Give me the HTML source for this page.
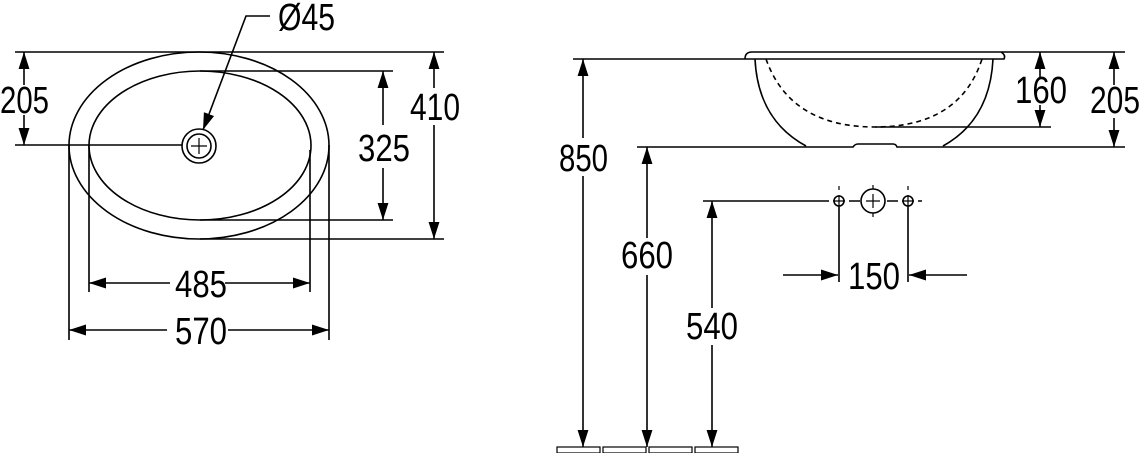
<!DOCTYPE html>
<html><head><meta charset="utf-8"><style>
html,body{margin:0;padding:0;background:#fff;width:1140px;height:453px;overflow:hidden}
svg text{font-family:"Liberation Sans",sans-serif;font-size:38px;fill:#000}
</style></head><body>
<svg width="1140" height="453" viewBox="0 0 1140 453" xmlns="http://www.w3.org/2000/svg">
<defs>
<marker id="a" viewBox="0 0 10 10" refX="10" refY="5" markerWidth="17" markerHeight="17" markerUnits="userSpaceOnUse" orient="auto"><path d="M0,1.8 L10,5 L0,8.2 z" fill="#000"/></marker>
</defs>
<g stroke="#000" stroke-width="1.6" fill="none">
<!-- top view -->
<ellipse cx="199" cy="145.5" rx="130" ry="93.5"/>
<ellipse cx="200" cy="145.5" rx="111" ry="74.5"/>
<circle cx="199" cy="146" r="17"/>
<circle cx="199" cy="146" r="12"/>
<path d="M191 146H207M199 138V154" stroke-width="1.2"/>
<path d="M15 52H444M15 145H182M200 71H393M200 220H393M200 239H444"/>
<path d="M89 145V292M310 150V292M69 145V340M329 145V340"/>
<path d="M24 85V52" marker-end="url(#a)"/><path d="M24 115V145" marker-end="url(#a)"/>
<path d="M383 125V71" marker-end="url(#a)"/><path d="M383 168V220" marker-end="url(#a)"/>
<path d="M434 88V52" marker-end="url(#a)"/><path d="M434 125V239" marker-end="url(#a)"/>
<path d="M170 283H89" marker-end="url(#a)"/><path d="M225 283H310" marker-end="url(#a)"/>
<path d="M167 330H69" marker-end="url(#a)"/><path d="M228 330H329" marker-end="url(#a)"/>
<path d="M270 16H246L203 130" marker-end="url(#a)"/>
<!-- side view -->
<path d="M573 59H745M745 59Q745 52 752 52H1125M745 59H1004Q1006 55 1001 52"/>
<path d="M755 59Q758 120 806 146M993 59Q990 120 943 146"/>
<path d="M766 59Q790 127 875 127Q960 127 982 59" stroke-dasharray="5,4"/>
<path d="M875 127H1051M637 147H853Q855 144 858 144H893Q896 144 897 147H1125"/>
<path d="M1040 77V52" marker-end="url(#a)"/><path d="M1040 105V127" marker-end="url(#a)"/>
<path d="M1114 85V52" marker-end="url(#a)"/><path d="M1114 118V147" marker-end="url(#a)"/>
<path d="M583 138V59" marker-end="url(#a)"/><path d="M583 176V447" marker-end="url(#a)"/>
<path d="M647 238V147" marker-end="url(#a)"/><path d="M647 275V447" marker-end="url(#a)"/>
<path d="M712 308V201" marker-end="url(#a)"/><path d="M712 345V447" marker-end="url(#a)"/>
<path d="M703 201H829M849 201H860M887 201H898M918 201H922"/>
<circle cx="839" cy="201" r="5"/><circle cx="908" cy="201" r="5"/><circle cx="873" cy="201" r="12"/>
<path d="M833 201H845M839 195V207M902 201H914M908 195V207M866 201H880M873 194V208M873 185V189M873 213V217M839 186V190M908 186V190" stroke-width="1.2"/>
<path d="M839 207V282M908 207V282"/>
<path d="M783 275H838" marker-end="url(#a)"/><path d="M967 275H909" marker-end="url(#a)"/>
<g stroke-width="1.2"><rect x="557" y="447" width="43" height="6"/><rect x="603" y="447" width="43" height="6"/><rect x="649" y="447" width="43" height="6"/><rect x="695" y="447" width="43" height="6"/></g>
</g>
<text x="0" y="113" textLength="49" lengthAdjust="spacingAndGlyphs">205</text>
<text x="358" y="161" textLength="52" lengthAdjust="spacingAndGlyphs">325</text>
<text x="410" y="120" textLength="50" lengthAdjust="spacingAndGlyphs">410</text>
<text x="175" y="297" textLength="52" lengthAdjust="spacingAndGlyphs">485</text>
<text x="175" y="344" textLength="52" lengthAdjust="spacingAndGlyphs">570</text>
<text x="278" y="30" textLength="57" lengthAdjust="spacingAndGlyphs">Ø45</text>
<text x="559" y="171" textLength="49" lengthAdjust="spacingAndGlyphs">850</text>
<text x="621" y="268" textLength="52" lengthAdjust="spacingAndGlyphs">660</text>
<text x="686" y="339" textLength="52" lengthAdjust="spacingAndGlyphs">540</text>
<text x="848" y="289" textLength="52" lengthAdjust="spacingAndGlyphs">150</text>
<text x="1015" y="103" textLength="52" lengthAdjust="spacingAndGlyphs">160</text>
<text x="1090" y="113" textLength="50" lengthAdjust="spacingAndGlyphs">205</text>
</svg>
</body></html>
